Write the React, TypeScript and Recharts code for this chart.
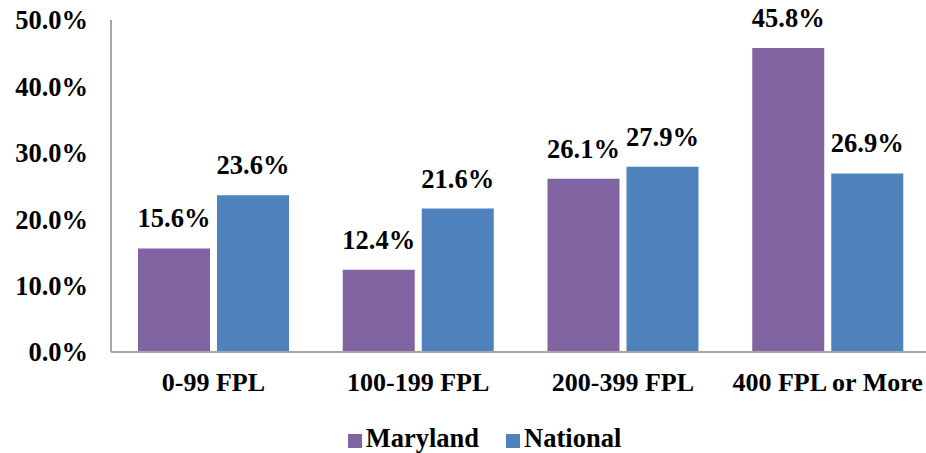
import { BarChart, Bar, XAxis, YAxis, Legend, LabelList } from 'recharts';

const categories = ['0-99 FPL', '100-199 FPL', '200-399 FPL', '400 FPL or More'];
const maryland = [15.6, 12.4, 26.1, 45.8];
const national = [23.6, 21.6, 27.9, 26.9];
const yTicks = [0, 10, 20, 30, 40, 50];

const FONT = '"Liberation Serif", "Times New Roman", serif';
const tickStyle = { fontFamily: FONT, fontSize: 26.5, fontWeight: 700, fill: '#000' };

document.body.style.margin = '0';

export default function App() {
  const data = categories.map((name, i) => ({
    name,
    Maryland: maryland[i],
    National: national[i],
  }));

  return (
    <BarChart
      width={926}
      height={453}
      data={data}
      margin={{ top: 20, right: -4, bottom: 0, left: 0 }}
      barCategoryGap={27}
      barGap={7}
    >
      <XAxis
        dataKey="name"
        tickLine={false}
        axisLine={{ stroke: '#a6a6a6', strokeWidth: 2 }}
        tick={{ ...tickStyle, fontSize: 26 }}
        tickMargin={15}
        height={55}
        interval={0}
      />
      <YAxis
        domain={[0, 50]}
        ticks={yTicks}
        tickFormatter={(v: number) => `${v.toFixed(1)}%`}
        tickLine={false}
        axisLine={{ stroke: '#a6a6a6', strokeWidth: 2 }}
        tick={tickStyle}
        tickMargin={17}
        width={111}
      />
      <Legend
        verticalAlign="bottom"
        height={30}
        iconType="square"
        iconSize={14}
        wrapperStyle={{ paddingLeft: 33, paddingTop: 16, fontFamily: FONT, fontSize: 26.5, fontWeight: 700 }}
        formatter={(value: string) => <span style={{ color: '#000', marginRight: 17 }}>{value}</span>}
      />
      <Bar dataKey="Maryland" fill="#8064A2" isAnimationActive={false}>
        <LabelList
          dataKey="Maryland"
          position="top"
          offset={21}
          formatter={(v: number) => `${v.toFixed(1)}%`}
          style={tickStyle}
        />
      </Bar>
      <Bar dataKey="National" fill="#4F81BD" isAnimationActive={false}>
        <LabelList
          dataKey="National"
          position="top"
          offset={21}
          formatter={(v: number) => `${v.toFixed(1)}%`}
          style={tickStyle}
        />
      </Bar>
    </BarChart>
  );
}
